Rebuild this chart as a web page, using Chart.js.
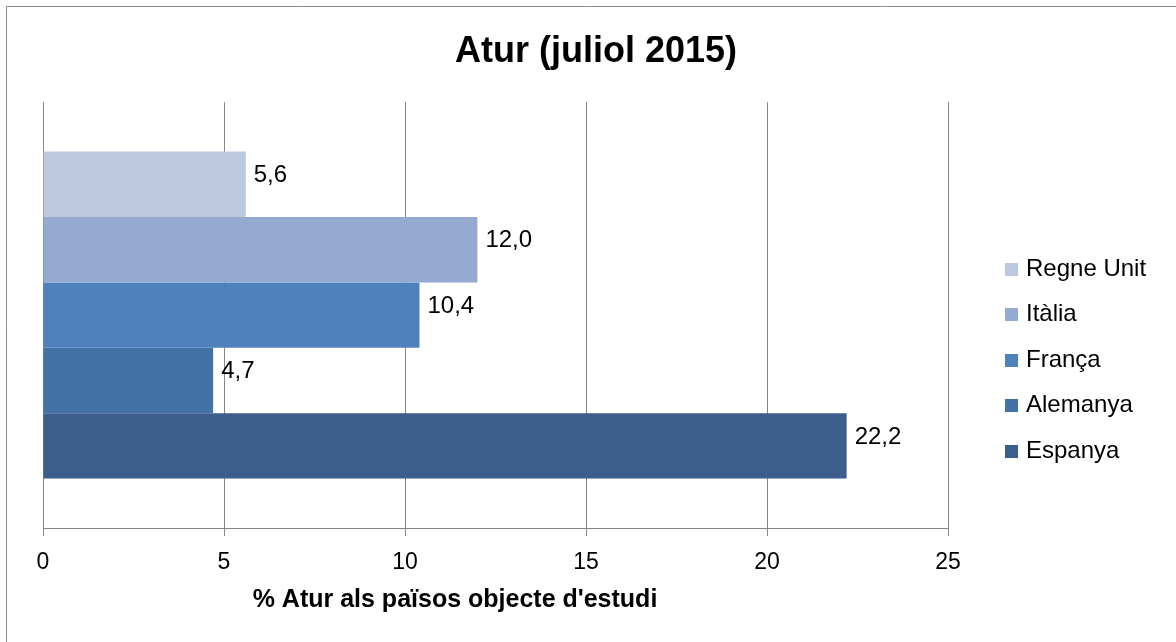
<!DOCTYPE html>
<html>
<head>
<meta charset="utf-8">
<title>Atur (juliol 2015)</title>
<script src="https://cdn.jsdelivr.net/npm/chart.js@4"></script>
<style>
  html, body { margin: 0; padding: 0; background: #fff; }
  #wrap { width: 1176px; height: 642px; position: relative; }
</style>
</head>
<body>
<div id="wrap"><canvas id="aturChart"></canvas></div>
<script>
// dades (juliol 2015)
const categories = ['Atur'];
const countries = ['Regne Unit', 'Itàlia', 'França', 'Alemanya', 'Espanya'];
const values = [5.6, 12.0, 10.4, 4.7, 22.2];
const colors = ['#BCC8E0', '#95AAD0', '#4F81BD', '#4372A6', '#3B5E8C'];
const xTicks = [0, 5, 10, 15, 20, 25];

const FONT = "'Liberation Sans', Arial, sans-serif";
const GRID = '#868686';

Chart.defaults.font.family = FONT;
Chart.defaults.color = '#000';

// etiquetes de valor al final de cada barra
const valueLabels = {
  id: 'valueLabels',
  afterDatasetsDraw(chart) {
    const ctx = chart.ctx;
    ctx.save();
    ctx.font = '24px ' + FONT;
    ctx.fillStyle = '#000';
    ctx.textAlign = 'left';
    ctx.textBaseline = 'middle';
    chart.data.datasets.forEach((ds, i) => {
      const meta = chart.getDatasetMeta(i);
      meta.data.forEach((bar, j) => {
        const txt = ds.data[j].toFixed(1).replace('.', ',');
        ctx.fillText(txt, bar.x + 8, bar.y - 9);
      });
    });
    ctx.restore();
  }
};

// llegenda a la dreta, títol de l'eix i marc
const extras = {
  id: 'extras',
  afterDraw(chart) {
    const ctx = chart.ctx;
    ctx.save();

    // marc (superior i esquerre)
    ctx.strokeStyle = '#8c8c8c';
    ctx.lineWidth = 1;
    ctx.beginPath();
    ctx.moveTo(6.5, chart.height);
    ctx.lineTo(6.5, 6.5);
    ctx.lineTo(chart.width, 6.5);
    ctx.stroke();

    // llegenda
    ctx.font = '24px ' + FONT;
    ctx.textAlign = 'left';
    ctx.textBaseline = 'middle';
    const lx = 1005, ly0 = 269, step = 45.5, box = 13;
    chart.data.datasets.forEach((ds, i) => {
      const y = ly0 + i * step;
      ctx.fillStyle = ds.backgroundColor;
      ctx.fillRect(lx, Math.round(y - box / 2), box, box);
      ctx.fillStyle = '#000';
      ctx.fillText(ds.label, lx + box + 8, y);
    });

    // títol de l'eix X
    ctx.font = 'bold 25px ' + FONT;
    ctx.textAlign = 'center';
    ctx.fillText("% Atur als països objecte d'estudi", 455, 600);
    ctx.restore();
  }
};

new Chart(document.getElementById('aturChart'), {
  type: 'bar',
  data: {
    labels: categories,
    datasets: countries.map((c, i) => ({
      label: c,
      data: [values[i]],
      backgroundColor: colors[i],
      borderWidth: 0,
      categoryPercentage: 0.768,
      barPercentage: 1.0
    }))
  },
  options: {
    indexAxis: 'y',
    responsive: true,
    maintainAspectRatio: false,
    animation: false,
    layout: { padding: { left: 16, right: 0, top: 0, bottom: 0 } },
    plugins: {
      legend: { display: false },
      tooltip: { enabled: false },
      title: {
        display: true,
        text: 'Atur (juliol 2015)',
        color: '#000',
        font: { size: 36, weight: 'bold' },
        padding: { top: 30, bottom: 29 }
      }
    },
    scales: {
      x: {
        min: 0,
        max: 25,
        afterBuildTicks: s => { s.ticks = xTicks.map(v => ({ value: v })); },
        afterFit: s => { s.height = 114; },
        ticks: { color: '#000', font: { size: 23 }, padding: 13 },
        grid: { color: GRID, lineWidth: 1, tickLength: 8, drawTicks: true },
        border: { display: true, color: GRID, width: 1 }
      },
      y: {
        display: true,
        afterFit: s => { s.width = 27; },
        ticks: { display: false },
        grid: { display: false },
        border: { display: false }
      },
      // espai buit per a la llegenda
      yLegend: {
        type: 'category',
        position: 'right',
        display: true,
        afterFit: s => { s.width = 228; },
        ticks: { display: false },
        grid: { display: false },
        border: { display: false }
      }
    }
  },
  plugins: [valueLabels, extras]
});
</script>
</body>
</html>
